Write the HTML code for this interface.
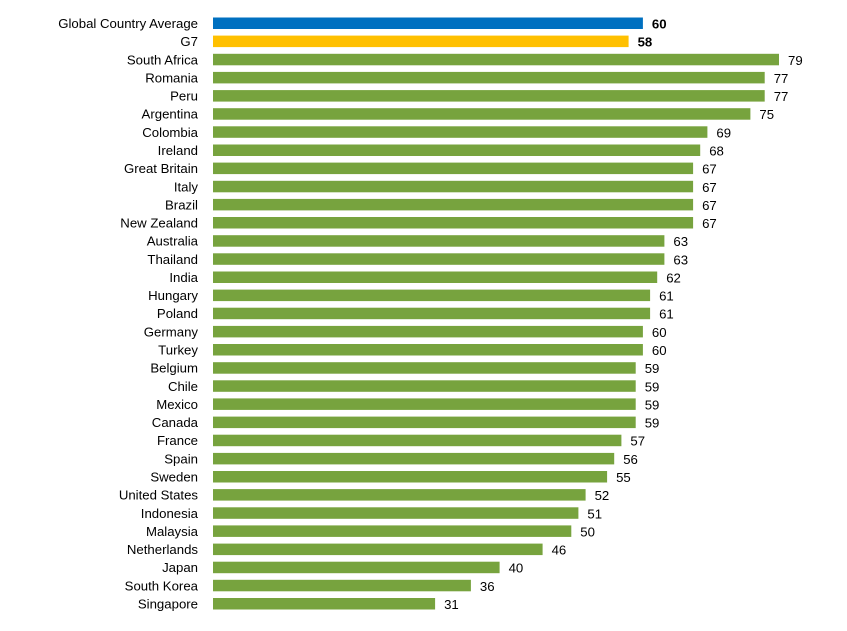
<!DOCTYPE html>
<html><head><meta charset="utf-8"><style>
body{margin:0;background:#fff;width:847px;height:626px;overflow:hidden}
</style></head><body>
<svg width="847" height="626" xmlns="http://www.w3.org/2000/svg" font-family="Liberation Sans, sans-serif" font-size="13.2" fill="#000">
<g id="g"></g>
</svg>
<script>
const d=[["Global Country Average",60,"#0070C0",1],["G7",58,"#FFC000",1],["South Africa",79],["Romania",77],["Peru",77],["Argentina",75],["Colombia",69],["Ireland",68],["Great Britain",67],["Italy",67],["Brazil",67],["New Zealand",67],["Australia",63],["Thailand",63],["India",62],["Hungary",61],["Poland",61],["Germany",60],["Turkey",60],["Belgium",59],["Chile",59],["Mexico",59],["Canada",59],["France",57],["Spain",56],["Sweden",55],["United States",52],["Indonesia",51],["Malaysia",50],["Netherlands",46],["Japan",40],["South Korea",36],["Singapore",31]];
let s="";const x0=213,k=7.165;
d.forEach((r,i)=>{const y=17.5+i*18.14;const w=r[1]*k;
s+=`<rect x="${x0}" y="${y.toFixed(1)}" width="${w.toFixed(1)}" height="11.5" fill="${r[2]||'#77A33E'}"/>`;
s+=`<text x="198" y="${(y+10.5).toFixed(1)}" text-anchor="end">${r[0]}</text>`;
s+=`<text x="${(x0+w+9).toFixed(1)}" y="${(y+11).toFixed(1)}"${r[3]?' font-weight="bold"':''}>${r[1]}</text>`;});
document.getElementById("g").innerHTML=s;
</script>
</body></html>
